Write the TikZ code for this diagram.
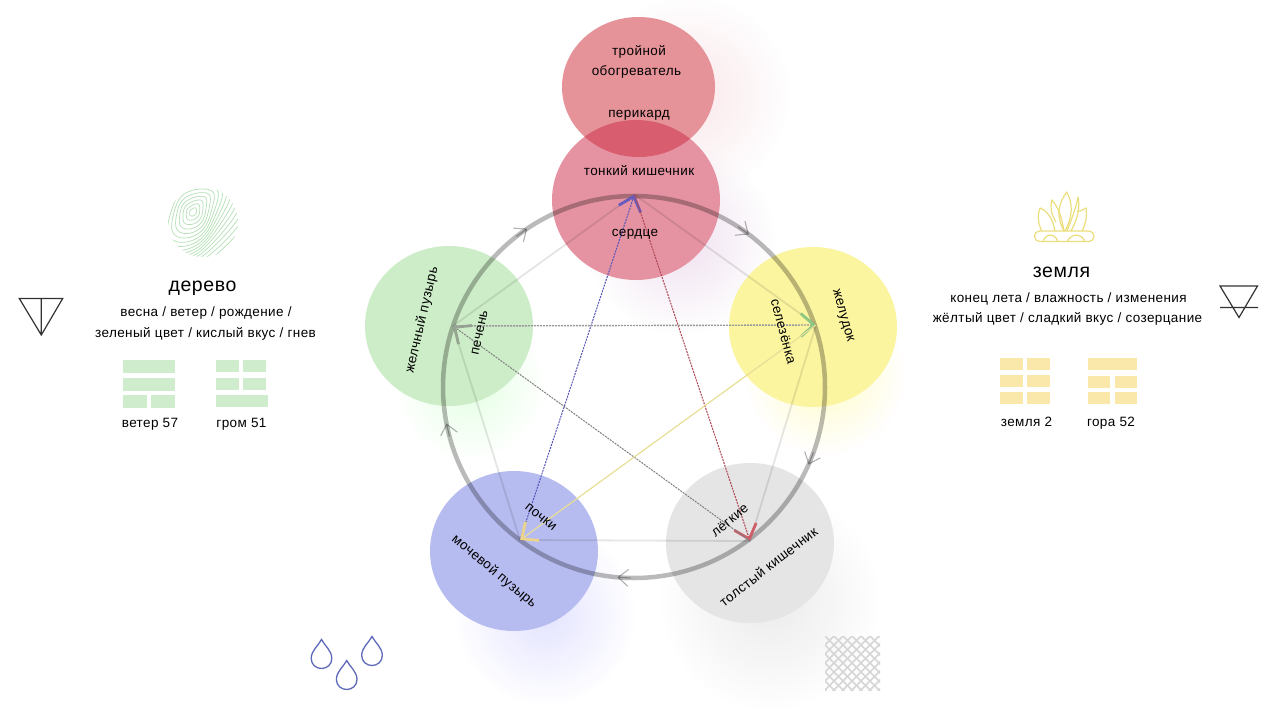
\documentclass[tikz,border=0pt]{standalone}
\usepackage{fontspec}
\setmainfont{Liberation Sans}[LetterSpace=3]
\usepackage{tikz}
\usetikzlibrary{arrows.meta}
\usetikzlibrary{calc}
\usetikzlibrary{shapes.geometric}
\usetikzlibrary{fadings}

\definecolor{organred}{RGB}{205,40,50}
\definecolor{organpink}{RGB}{205,40,70}
\definecolor{organgreen}{RGB}{205,237,200}
\definecolor{organyellow}{RGB}{251,245,160}
\definecolor{organblue}{RGB}{183,188,240}
\definecolor{organgray}{RGB}{229,229,229}
\definecolor{hexgreen}{RGB}{207,236,205}
\definecolor{hexyellow}{RGB}{250,232,170}
\definecolor{droppen}{RGB}{95,105,185}
\definecolor{plantpen}{RGB}{236,222,125}
\definecolor{woodpen}{RGB}{180,224,180}
\definecolor{linkblue}{RGB}{85,85,185}
\definecolor{tipblue}{RGB}{105,90,190}
\definecolor{linkred}{RGB}{175,70,85}
\definecolor{tipred}{RGB}{205,95,105}
\definecolor{tipgray}{RGB}{150,165,145}
\definecolor{tipgreen}{RGB}{140,200,130}
\definecolor{linkyellow}{RGB}{232,222,150}
\definecolor{tipyellow}{RGB}{236,212,140}

\tikzfading[name=glowfade, inner color=transparent!76, outer color=transparent!100]

\tikzset{
  organ/.style={ellipse, inner sep=0pt, minimum width=168pt, minimum height=160pt},
  organlabel/.style={inner sep=0pt, text height=12pt, text depth=2pt, font=\fontsize{13.5}{16}\selectfont},
  smalllabel/.style={inner sep=0pt, text height=12pt, text depth=2pt, font=\fontsize{13.5}{16}\selectfont},
  elementlabel/.style={inner sep=0pt, text height=14pt, text depth=1pt, font=\fontsize{19.5}{23}\selectfont},
  ringline/.style={draw=black, draw opacity=.27, line width=4.5pt},
  ringtip/.style={draw=black, draw opacity=.3, line width=1.1pt, -{Straight Barb[length=10pt, width=17pt]}},
  sideline/.style={draw=black, draw opacity=.1, line width=1.8pt},
  starline/.style={line width=1pt, dash pattern=on 2pt off 1pt},
  bigtip/.style={-{Straight Barb[length=13pt, width=23pt, line width=2.8pt, color=#1]}},
  symbolpen/.style={draw=black!80, line width=1.2pt, line join=miter},
  pics/dropshape/.style={code={
    \draw[droppen, line width=1.3pt] (0,0) .. controls (-3,-6) and (-10.3,-11) .. (-10.3,-19)
      .. controls (-10.3,-25) and (-5.5,-29) .. (0,-29)
      .. controls (5.5,-29) and (10.3,-25) .. (10.3,-19)
      .. controls (10.3,-11) and (3,-6) .. (0,0) -- cycle;
  }}
}

\begin{document}
\begin{tikzpicture}[x=1pt, y=1pt]
\fill[white] (0,0) rectangle (1280,-720);
\useasboundingbox (0,0) rectangle (1280,-720);

% soft glows behind the circles
\fill[organpink!45!white, path fading=glowfade] (690,-95) circle (100);
\fill[violet!50!white, path fading=glowfade] (680,-240) circle (95);
\fill[green!45!white, path fading=glowfade] (470,-385) circle (75);
\fill[yellow!90!white, path fading=glowfade] (825,-375) circle (80);
\fill[blue!45!white, path fading=glowfade] (545,-615) circle (90);
\fill[black!32, path fading=glowfade] (770,-600) circle (110);

% white under the two red circles, so the glows stay out of them
\fill[white] (638.5,-87) ellipse (76.5 and 70);
\fill[white] (636,-200) ellipse (84 and 80);

% the six circles
\node[organ, fill=organred, fill opacity=.5, minimum width=153pt, minimum height=140pt] (troynoy) at (638.5,-87) {};
\node[organ, fill=organpink, fill opacity=.5] (krug) at (636,-200) {};
\node[organ, fill=organgreen] (derevo) at (449,-326) {};
\node[organ, fill=organyellow] (zemlya) at (813,-327) {};
\node[organ, fill=organblue] (voda) at (514,-551) {};
\node[organ, fill=organgray] (metall) at (750,-543) {};

\coordinate (serdce) at (634.5,-194.5);
\coordinate (pechen) at (453,-326);
\coordinate (selezenka) at (816,-325);
\coordinate (pochki) at (520,-540);
\coordinate (legkie) at (750,-541);
\coordinate (ringcentre) at (634,-387);

% ring and its five tips
\draw[ringline] (ringcentre) circle (191);
\foreach \a in {124,53,-24,-95,-169}
  \draw[ringtip] ($(ringcentre)+(\a+4:191)$) -- ($(ringcentre)+(\a:191)$);

% pentagon
\draw[sideline] (serdce) -- (selezenka) -- (legkie) -- (pochki) -- (pechen) -- (serdce);

% star
\draw[starline, draw=linkblue, bigtip=tipblue] (pochki) -- (serdce);
\draw[starline, draw=linkred, bigtip=tipred] (serdce) -- (legkie);
\draw[starline, draw=black!50, bigtip=tipgray] (legkie) -- (pechen);
\draw[starline, draw=black!40, line width=1.4pt, bigtip=tipgreen] (pechen) -- (selezenka);
\draw[line width=1.2pt, draw=linkyellow, bigtip=tipyellow] (selezenka) -- (pochki);

% organ names
\node[organlabel] (l1) at (639,-50) {тройной};
\node[organlabel] (l2) at (636.5,-70.5) {обогреватель};
\node[organlabel] (l3) at (639,-112) {перикард};
\node[organlabel] (l4) at (639,-170.5) {тонкий кишечник};
\node[organlabel] (l5) at (635,-231) {сердце};
\node[organlabel, rotate=77] (l6) at (420.7,-319.5) {желчный пузырь};
\node[organlabel, rotate=78] (l7) at (478.3,-332.5) {печень};
\node[organlabel, rotate=-75] (l8) at (784,-331.5) {селезёнка};
\node[organlabel, rotate=-74] (l9) at (845,-315) {желудок};
\node[organlabel, rotate=-39] (l10) at (541.7,-516) {почки};
\node[organlabel, rotate=-40] (l11) at (495,-570.5) {мочевой пузырь};
\node[organlabel, rotate=39] (l12) at (729.3,-520) {лёгкие};
\node[organlabel, rotate=38] (l13) at (768.3,-566.5) {толстый кишечник};

% left column
\node[elementlabel] (t1) at (202.5,-285) {дерево};
\node[smalllabel] (t2) at (206,-311) {весна / ветер / рождение /};
\node[smalllabel] (t3) at (205.5,-332) {зеленый цвет / кислый вкус / гнев};
\node[smalllabel] (t4) at (150,-422) {ветер 57};
\node[smalllabel] (t5) at (241.5,-422) {гром 51};
\foreach \xa/\ya/\xb/\yb in {123/360/175/372.5, 123/378/175/390.5, 123/395/146.5/408, 151/395/174.5/408,
    215.5/360/239/372, 243/360/266/372, 215.5/377.5/239/390, 243/377.5/266/390, 215.5/394.5/268/407}
  \fill[hexgreen] (\xa,-\ya) rectangle (\xb,-\yb);
\draw[symbolpen] (19.3,-298.5) -- (62.7,-298.5) -- (41.3,-335) -- cycle (41.3,-298.5) -- (41.3,-335);

% wood rings
\begin{scope}
\clip (203,-222) circle (35);
\foreach \s in {1,...,17}
  \draw[woodpen, line width=.7pt] plot[domain=0:350, samples=36, smooth cycle, variable=\x]
    ({193+\s*(4.6*cos(\x)*.6-3*sin(\x)*.8)+\s*.3*sin(3*\x+\s*14)},
     {-212+\s*(4.6*cos(\x)*.8+3*sin(\x)*.6)+\s*.25*cos(2*\x+\s*20)});
\end{scope}

% right column
\node[elementlabel] (t6) at (1061.5,-271) {земля};
\node[smalllabel] (t7) at (1068.5,-297) {конец лета / влажность / изменения};
\node[smalllabel] (t8) at (1067.5,-317.5) {жёлтый цвет / сладкий вкус / созерцание};
\node[smalllabel] (t9) at (1026.5,-421) {земля 2};
\node[smalllabel] (t10) at (1111,-421) {гора 52};
\foreach \xa/\ya/\xb/\yb in {1000/357.5/1023/369.5, 1027/357.5/1050/369.5, 1000/375/1023/387, 1027/375/1050/387, 1000/392/1023/403.5, 1027/392/1050/403.5,
    1088/357.5/1137/370, 1088/376/1110/388, 1115/376/1137/388, 1088/392/1110/403.5, 1115/392/1137/403.5}
  \fill[hexyellow] (\xa,-\ya) rectangle (\xb,-\yb);
\draw[symbolpen] (1220,-286) -- (1257.5,-286) -- (1239,-317.5) -- cycle (1220,-307.5) -- (1258,-307.5);

% plant
\begin{scope}[plantpen, line width=1.2pt, line join=round]
\draw[rounded corners=5pt] (1034.5,-231) rectangle (1094,-241.5);
\draw (1043,-241.5) .. controls (1046,-233) and (1055,-233) .. (1058,-241.5);
\draw (1067,-241.5) .. controls (1072,-233) and (1081,-233) .. (1085,-241.5);
\draw (1041.5,-231) .. controls (1037,-220) and (1038,-213) .. (1040,-208) .. controls (1048,-211) and (1053,-220) .. (1055,-231);
\draw (1056,-222) .. controls (1051,-214) and (1050,-207) .. (1051.7,-200) .. controls (1058,-206) and (1062,-218) .. (1064,-231);
\draw (1064,-231) .. controls (1056,-216) and (1058,-204) .. (1066.7,-192) .. controls (1073,-203) and (1073,-216) .. (1065,-231);
\draw (1067,-231) .. controls (1072,-218) and (1076,-208) .. (1078,-197) .. controls (1080,-208) and (1078,-218) .. (1071,-231);
\draw (1077,-212) .. controls (1080,-211) and (1083,-210) .. (1086,-208) .. controls (1087,-216) and (1086,-224) .. (1082,-231);
\end{scope}

% drops
\pic (drop1) at (321.5,-639.5) {dropshape};
\pic (drop2) at (346.7,-660.5) {dropshape};
\pic (drop3) at (372,-636.5) {dropshape};

% mesh
\begin{scope}
\clip (825,-636) rectangle (880,-690);
\foreach \x in {825,834,...,942}
  \draw[black!16, line width=1.6pt] (\x,-636) -- ++(-60,-60);
\foreach \x in {762,771,...,879}
  \draw[black!16, line width=1.6pt] (\x,-636) -- ++(60,-60);
\end{scope}
\end{tikzpicture}
\end{document}
